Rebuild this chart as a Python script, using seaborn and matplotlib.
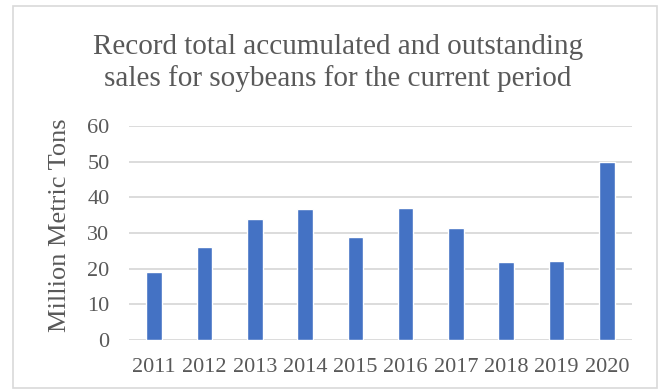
import matplotlib
matplotlib.use("Agg")
import matplotlib.pyplot as plt
import seaborn as sns
import pandas as pd
from matplotlib.patches import Rectangle

years = ["2011", "2012", "2013", "2014", "2015", "2016", "2017", "2018", "2019", "2020"]
sales = [19.0, 26.0, 34.0, 36.6, 29.0, 37.0, 31.4, 21.9, 22.1, 50.0]
yticks = [0, 10, 20, 30, 40, 50, 60]
title = "Record total accumulated and outstanding\nsales for soybeans for the current period"
ylabel = "Million Metric Tons"

sns.set_theme(style="white")
plt.rcParams["font.family"] = ["Liberation Serif", "DejaVu Serif"]

df = pd.DataFrame({"year": years, "sales": sales})

fig = plt.figure(figsize=(6.62, 3.90), dpi=100)
ax = fig.add_axes([129 / 662, 1 - 340 / 390, (632 - 129) / 662, (340 - 126) / 390])

sns.barplot(data=df, x="year", y="sales", color="#4472C4", saturation=1,
            width=0.31, ax=ax, zorder=3)

grey = "#595959"
ax.set_ylim(0, 60)
ax.set_yticks(yticks)
ax.set_yticklabels([str(t) for t in yticks])
ax.yaxis.grid(True, color="#D9D9D9", linewidth=1.3, zorder=0)
ax.set_axisbelow(True)
for s in ax.spines.values():
    s.set_visible(False)
ax.tick_params(axis="both", length=0, labelcolor=grey, labelsize=16)
ax.tick_params(axis="y", pad=14)
ax.tick_params(axis="x", pad=13)
ax.set_xlabel("")
ax.set_ylabel("")
ax.set_xlim(-0.5, len(years) - 0.5)

fig.text(60 / 662, 1 - 225 / 390, ylabel, rotation=90, ha="center", va="center",
         fontsize=19, color=grey)

fig.text(338 / 662, 1 - 63 / 390, title, ha="center", va="center",
         fontsize=21, color=grey, linespacing=1.27)

fig.patches.append(Rectangle((13 / 662, 2 / 390), (657 - 13) / 662, (384 - 2) / 390,
                             transform=fig.transFigure, fill=False,
                             edgecolor="#D9D9D9", linewidth=1.2))

fig.savefig("out.png", dpi=100)
